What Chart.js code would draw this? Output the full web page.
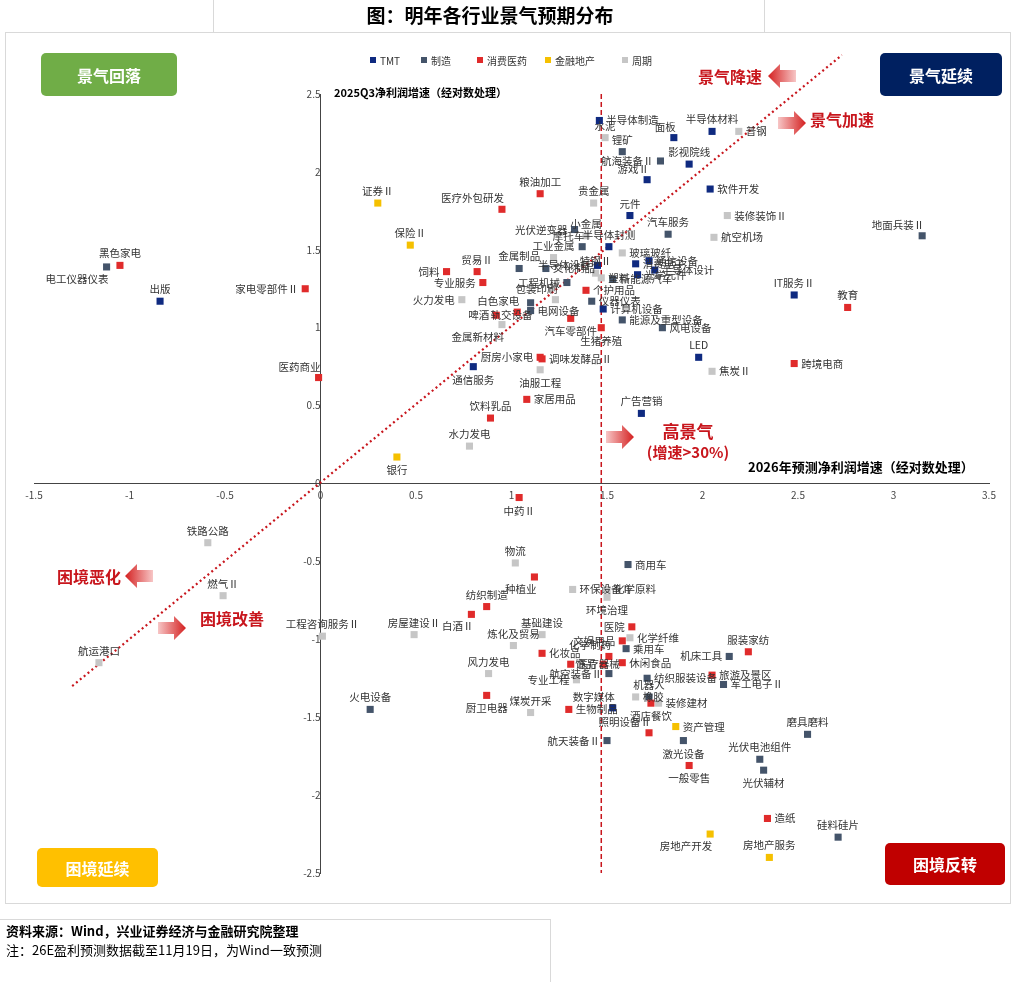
<!DOCTYPE html>
<html>
<head>
<meta charset="utf-8">
<script src="https://cdn.jsdelivr.net/npm/chart.js@4"></script>
<style>
  body { margin: 0; background: #fff; }
  #c { position: absolute; left: 0; top: 0; }
</style>
</head>
<body>
<canvas id="c" width="1024" height="982"></canvas>
<script>
// ---- data ----
var tmtNames = ["半导体制造","面板","半导体材料","影视院线","游戏Ⅱ","软件开发","元件","半导体封测","半导体设备","消费电子","通信设备","半导体设计","光学元件","计算机设备","LED","通信服务","广告营销","IT服务Ⅱ","出版","数字媒体"];
var tmtX = [1.46,1.85,2.05,1.93,1.71,2.04,1.62,1.51,1.45,1.65,1.72,1.75,1.66,1.48,1.98,0.80,1.68,2.48,-0.84,1.53];
var tmtY = [2.33,2.22,2.26,2.05,1.95,1.89,1.72,1.52,1.40,1.41,1.43,1.37,1.34,1.12,0.81,0.75,0.45,1.21,1.17,-1.44];

var mfgNames = ["电工仪器仪表","锂矿","航海装备Ⅱ","光伏逆变器","摩托车","金属制品","文化制品","工程机械","电网设备","仪器仪表","新能源汽车","能源及重型设备","风电设备","汽车服务","地面兵装Ⅱ","轨交设备","商用车","乘用车","航空装备Ⅱ","纺织服装设备","机器人","机床工具","军工电子Ⅱ","火电设备","航天装备Ⅱ","激光设备","光伏电池组件","光伏辅材","磨具磨料","硅料硅片"];
var mfgX = [-1.12,1.58,1.78,1.33,1.37,1.04,1.18,1.29,1.10,1.42,1.53,1.58,1.79,1.82,3.15,1.10,1.61,1.60,1.51,1.71,1.72,2.14,2.11,0.26,1.50,1.90,2.30,2.32,2.55,2.71];
var mfgY = [1.39,2.13,2.07,1.63,1.52,1.38,1.38,1.29,1.11,1.17,1.31,1.05,1.00,1.60,1.59,1.16,-0.52,-1.06,-1.22,-1.25,-1.37,-1.11,-1.29,-1.45,-1.65,-1.65,-1.77,-1.84,-1.61,-2.27];

var conNames = ["黑色家电","家电零部件Ⅱ","医药商业","粮油加工","医疗外包研发","饲料","贸易Ⅱ","专业服务","个护用品","啤酒","白色家电","汽车零部件","生猪养殖","厨房小家电","调味发酵品Ⅱ","跨境电商","教育","家居用品","饮料乳品","中药Ⅱ","种植业","纺织制造","白酒Ⅱ","医院","文娱用品","化妆品","医疗器械","化学制药","饰品","休闲食品","厨卫电器","生物制品","酒店餐饮","照明设备Ⅱ","一般零售","服装家纺","旅游及景区","造纸"];
var conX = [-1.05,-0.08,-0.01,1.15,0.95,0.66,0.82,0.85,1.39,0.92,1.03,1.31,1.47,1.15,1.16,2.48,2.76,1.08,0.89,1.04,1.12,0.87,0.79,1.63,1.58,1.16,1.31,1.51,1.48,1.58,0.87,1.30,1.73,1.72,1.93,2.24,2.05,2.34];
var conY = [1.40,1.25,0.68,1.86,1.76,1.36,1.36,1.29,1.24,1.08,1.10,1.06,1.00,0.81,0.80,0.77,1.13,0.54,0.42,-0.09,-0.60,-0.79,-0.84,-0.92,-1.01,-1.09,-1.16,-1.11,-1.16,-1.15,-1.36,-1.45,-1.41,-1.60,-1.81,-1.08,-1.23,-2.15];

var finNames = ["证券Ⅱ","保险Ⅱ","银行","资产管理","房地产开发","房地产服务"];
var finX = [0.30,0.47,0.40,1.86,2.04,2.35];
var finY = [1.80,1.53,0.17,-1.56,-2.25,-2.40];

var cycNames = ["水泥","普钢","贵金属","装修装饰Ⅱ","航空机场","小金属","工业金属","玻璃玻纤","特钢Ⅱ","塑料","包装印刷","火力发电","金属新材料","油服工程","焦炭Ⅱ","水力发电","铁路公路","燃气Ⅱ","航运港口","工程咨询服务Ⅱ","房屋建设Ⅱ","物流","环保设备Ⅱ","化学原料","环境治理","基础建设","炼化及贸易","化学纤维","风力发电","专业工程","橡胶","装修建材","煤炭开采"];
var cycX = [1.49,2.19,1.43,2.13,2.06,1.39,1.22,1.58,1.44,1.47,1.23,0.74,0.95,1.15,2.05,0.78,-0.59,-0.51,-1.16,0.01,0.49,1.02,1.32,1.50,1.50,1.16,1.01,1.62,0.88,1.34,1.65,1.77,1.10];
var cycY = [2.22,2.26,1.80,1.72,1.58,1.59,1.45,1.48,1.35,1.32,1.18,1.18,1.02,0.73,0.72,0.24,-0.38,-0.72,-1.15,-0.98,-0.97,-0.51,-0.68,-0.68,-0.73,-0.97,-1.04,-0.99,-1.22,-1.26,-1.37,-1.41,-1.47];

var groupNames = ["TMT","制造","消费医药","金融地产","周期"];
var xTicks = [-1.5,-1,-0.5,0,0.5,1,1.5,2,2.5,3,3.5];
var yTicks = [2.5,2,1.5,1,0.5,0,-0.5,-1,-1.5,-2,-2.5];
var highLine = 1.47; // vertical divider

// ---- style ----
var colors = ["#0f2a80","#44546a","#e02b2b","#f5c000","#c6c6c6"];
var FONT = '"Noto Sans CJK SC", "Noto Sans", sans-serif';
// label side per name, default right
var labelAt = {
  "水泥":"t","面板":"tl","半导体材料":"t","影视院线":"t","游戏Ⅱ":"tl","元件":"t","粮油加工":"t","医疗外包研发":"tl",
  "贵金属":"t","证券Ⅱ":"t","保险Ⅱ":"t","饲料":"l","贸易Ⅱ":"t","专业服务":"l","火力发电":"l","啤酒":"l","白色家电":"tl",
  "金属新材料":"bl","汽车零部件":"b","生猪养殖":"b","厨房小家电":"l","通信服务":"b","油服工程":"b","LED":"t","IT服务Ⅱ":"t",
  "教育":"t","地面兵装Ⅱ":"tl","广告营销":"t","饮料乳品":"t","水力发电":"t","银行":"b","中药Ⅱ":"b","汽车服务":"t",
  "锂矿":"t","航海装备Ⅱ":"l","光伏逆变器":"l","小金属":"t","摩托车":"tl","工业金属":"t","金属制品":"t","文化制品":"r",
  "轨交设备":"bl","工程机械":"l","包装印刷":"tl","电网设备":"r","仪器仪表":"r","半导体封测":"t","半导体设备":"l",
  "电工仪器仪表":"bl","黑色家电":"t","出版":"t","家电零部件Ⅱ":"l","医药商业":"tl","特钢Ⅱ":"t","塑料":"r",
  "铁路公路":"t","燃气Ⅱ":"t","航运港口":"t","工程咨询服务Ⅱ":"t","房屋建设Ⅱ":"t","火电设备":"t","物流":"t","种植业":"bl",
  "环境治理":"b","纺织制造":"t","白酒Ⅱ":"bl","基础建设":"t","炼化及贸易":"t","医院":"l","文娱用品":"l","化学制药":"tl",
  "饰品":"l","风力发电":"t","厨卫电器":"b","煤炭开采":"t","专业工程":"l","航空装备Ⅱ":"l","机器人":"t","数字媒体":"tl",
  "照明设备Ⅱ":"tl","航天装备Ⅱ":"l","激光设备":"b","一般零售":"b","机床工具":"l","服装家纺":"t","光伏电池组件":"t",
  "光伏辅材":"b","磨具磨料":"t","硅料硅片":"t","房地产开发":"bl","房地产服务":"t","酒店餐饮":"b"
};

function pts(names, xs, ys) {
  var out = [];
  for (var i in names) out.push({x: xs[i], y: ys[i], name: names[i]});
  return out;
}
var groups = [[tmtNames,tmtX,tmtY],[mfgNames,mfgX,mfgY],[conNames,conX,conY],[finNames,finX,finY],[cycNames,cycX,cycY]];
var datasets = [];
for (var g = 0; g < groups.length; g++) {
  datasets.push({
    label: groupNames[g],
    data: pts(groups[g][0], groups[g][1], groups[g][2]),
    backgroundColor: colors[g],
    borderColor: colors[g],
    borderWidth: 0,
    pointStyle: "rect",
    pointRadius: 5
  });
}
datasets.reverse(); // TMT on top

function box(ctx, x, y, w, h, color, text) {
  ctx.fillStyle = color;
  ctx.beginPath();
  ctx.roundRect(x, y, w, h, 5);
  ctx.fill();
  ctx.fillStyle = "#fff";
  ctx.font = "bold 16px " + FONT;
  ctx.textAlign = "center";
  ctx.textBaseline = "middle";
  ctx.fillText(text, x + w / 2, y + h / 2 + 1);
}

function arrow(ctx, cx, cy, dir) {
  var w = 28, h = 24, sh = 12;
  var x0 = cx - w / 2, x1 = cx + w / 2;
  var grad = ctx.createLinearGradient(dir > 0 ? x0 : x1, 0, dir > 0 ? x1 : x0, 0);
  grad.addColorStop(0, "#f7c6c6");
  grad.addColorStop(1, "#d42020");
  ctx.fillStyle = grad;
  ctx.beginPath();
  if (dir > 0) {
    ctx.moveTo(x0, cy - sh / 2); ctx.lineTo(cx + 2, cy - sh / 2); ctx.lineTo(cx + 2, cy - h / 2);
    ctx.lineTo(x1, cy); ctx.lineTo(cx + 2, cy + h / 2); ctx.lineTo(cx + 2, cy + sh / 2); ctx.lineTo(x0, cy + sh / 2);
  } else {
    ctx.moveTo(x1, cy - sh / 2); ctx.lineTo(cx - 2, cy - sh / 2); ctx.lineTo(cx - 2, cy - h / 2);
    ctx.lineTo(x0, cy); ctx.lineTo(cx - 2, cy + h / 2); ctx.lineTo(cx - 2, cy + sh / 2); ctx.lineTo(x1, cy + sh / 2);
  }
  ctx.closePath();
  ctx.fill();
}

function redText(ctx, t, x, y, size) {
  ctx.fillStyle = "#c8161d";
  ctx.font = "bold " + (size || 16) + "px " + FONT;
  ctx.textAlign = "center";
  ctx.textBaseline = "middle";
  ctx.fillText(t, x, y);
}

var decor = {
  id: "decor",
  beforeDatasetsDraw: function(chart) {
    var ctx = chart.ctx, xs = chart.scales.x, ys = chart.scales.y;
    ctx.save();
    // vertical divider
    ctx.strokeStyle = "#c8161d"; ctx.lineWidth = 1.5; ctx.setLineDash([5, 3]);
    ctx.beginPath();
    ctx.moveTo(xs.getPixelForValue(highLine), ys.getPixelForValue(2.5));
    ctx.lineTo(xs.getPixelForValue(highLine), ys.getPixelForValue(-2.5));
    ctx.stroke();
    // diagonal
    ctx.lineWidth = 2.2; ctx.setLineDash([2, 3]);
    ctx.beginPath();
    ctx.moveTo(xs.getPixelForValue(-1.3), ys.getPixelForValue(-1.3));
    ctx.lineTo(xs.getPixelForValue(2.73), ys.getPixelForValue(2.75));
    ctx.stroke();
    ctx.restore();
  },
  afterDraw: function(chart) {
    var ctx = chart.ctx;
    ctx.save();
    // frame
    ctx.strokeStyle = "#d9d9d9"; ctx.lineWidth = 1;
    ctx.strokeRect(5.5, 32.5, 1005, 871);
    ctx.beginPath(); ctx.moveTo(213.5, 0); ctx.lineTo(213.5, 32); ctx.moveTo(764.5, 0); ctx.lineTo(764.5, 32); ctx.stroke();
    ctx.beginPath(); ctx.moveTo(0, 919.5); ctx.lineTo(550, 919.5); ctx.moveTo(550.5, 919); ctx.lineTo(550.5, 982); ctx.stroke();
    // title
    ctx.fillStyle = "#000"; ctx.font = "bold 19px " + FONT; ctx.textAlign = "center"; ctx.textBaseline = "middle";
    ctx.fillText("图：明年各行业景气预期分布", 490, 16);
    // legend
    var lx = [370, 421, 477, 545, 622];
    ctx.font = "10px " + FONT; ctx.textAlign = "left";
    for (var i = 0; i < groupNames.length; i++) {
      ctx.fillStyle = colors[i]; ctx.fillRect(lx[i], 57, 6, 6);
      ctx.fillStyle = "#333"; ctx.fillText(groupNames[i], lx[i] + 10, 61);
    }
    // axis titles
    ctx.fillStyle = "#000"; ctx.font = "bold 11px " + FONT;
    ctx.fillText("2025Q3净利润增速（经对数处理）", 334, 93);
    ctx.font = "bold 13px " + FONT;
    ctx.fillText("2026年预测净利润增速（经对数处理）", 748, 467);
    // corner boxes
    box(ctx, 41, 53, 136, 43, "#70ad47", "景气回落");
    box(ctx, 880, 53, 122, 43, "#002060", "景气延续");
    box(ctx, 37, 848, 121, 39, "#ffc000", "困境延续");
    box(ctx, 885, 843, 120, 42, "#c00000", "困境反转");
    // arrows and notes
    redText(ctx, "景气降速", 730, 77); arrow(ctx, 782, 76, -1);
    redText(ctx, "景气加速", 842, 120); arrow(ctx, 792, 123, 1);
    arrow(ctx, 620, 437, 1);
    redText(ctx, "高景气", 688, 432, 17); redText(ctx, "(增速>30%)", 688, 452, 15);
    redText(ctx, "困境恶化", 89, 577); arrow(ctx, 139, 576, -1);
    redText(ctx, "困境改善", 232, 619); arrow(ctx, 172, 628, 1);
    // footer
    ctx.fillStyle = "#000"; ctx.textAlign = "left";
    ctx.font = "bold 13px " + FONT; ctx.fillText("资料来源：Wind，兴业证券经济与金融研究院整理", 6, 931);
    ctx.font = "13px " + FONT; ctx.fillText("注：26E盈利预测数据截至11月19日，为Wind一致预测", 6, 950);
    ctx.restore();
  },
  afterDatasetsDraw: function(chart) {
    var ctx = chart.ctx;
    ctx.save();
    ctx.font = "10.5px " + FONT; ctx.fillStyle = "#333";
    chart.data.datasets.forEach(function(ds, di) {
      var meta = chart.getDatasetMeta(di);
      meta.data.forEach(function(el, i) {
        var name = ds.data[i].name, side = labelAt[name] || "r";
        var x = el.x, y = el.y;
        ctx.textBaseline = "middle";
        if (side == "r") { ctx.textAlign = "left"; ctx.fillText(name, x + 7, y); }
        else if (side == "l") { ctx.textAlign = "right"; ctx.fillText(name, x - 7, y); }
        else if (side == "t") { ctx.textAlign = "center"; ctx.fillText(name, x, y - 12); }
        else if (side == "b") { ctx.textAlign = "center"; ctx.fillText(name, x, y + 13); }
        else if (side == "tl") { ctx.textAlign = "right"; ctx.fillText(name, x + 2, y - 11); }
        else if (side == "bl") { ctx.textAlign = "right"; ctx.fillText(name, x + 2, y + 12); }
      });
    });
    ctx.restore();
  }
};

function fmt(v) { return String(Math.round(v * 10) / 10); }

new Chart(document.getElementById("c"), {
  type: "scatter",
  data: { datasets: datasets },
  options: {
    responsive: false,
    animation: false,
    devicePixelRatio: 1,
    layout: { padding: { left: 34, right: 35, top: 94, bottom: 109 } },
    plugins: { legend: { display: false }, tooltip: { enabled: false } },
    scales: {
      x: {
        type: "linear", min: -1.5, max: 3.5, position: { y: 0 },
        afterBuildTicks: function(s) { s.ticks = xTicks.map(function(v) { return {value: v}; }); },
        grid: { display: false, drawTicks: true, tickLength: 4 },
        border: { color: "#444" },
        ticks: { font: { size: 10, family: FONT }, color: "#444", padding: 2, callback: fmt }
      },
      y: {
        type: "linear", min: -2.5, max: 2.5, position: { x: 0 },
        afterBuildTicks: function(s) { s.ticks = yTicks.map(function(v) { return {value: v}; }); },
        grid: { display: false, tickLength: 4 },
        border: { color: "#444" },
        ticks: { font: { size: 10, family: FONT }, color: "#444", padding: 2, callback: fmt }
      }
    }
  },
  plugins: [decor]
});
</script>
</body>
</html>
